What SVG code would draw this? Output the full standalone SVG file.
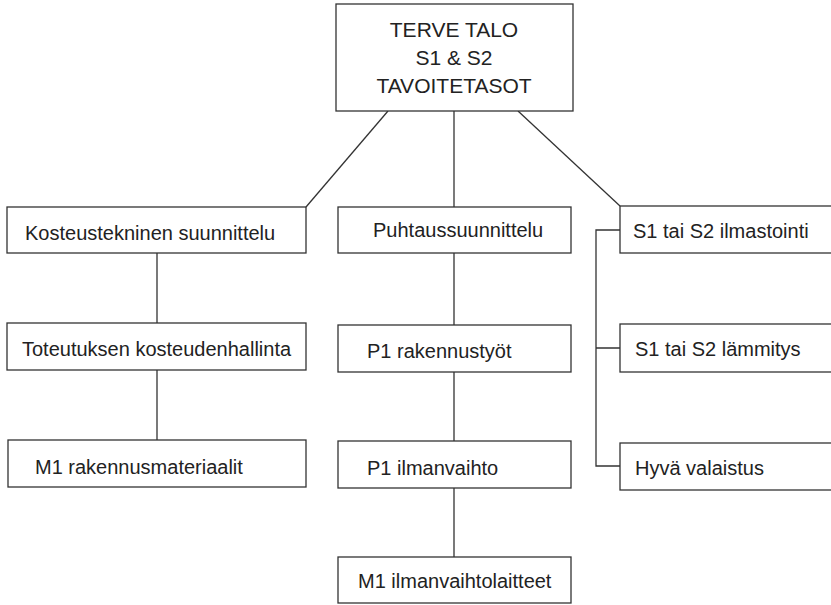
<svg xmlns="http://www.w3.org/2000/svg" width="831" height="605" viewBox="0 0 831 605">
<style>
.box{fill:#fff;stroke:#333;stroke-width:1.3}
.ln{fill:none;stroke:#333;stroke-width:1.3}
text{font-family:"Liberation Sans",Arial,sans-serif;font-size:20px;fill:#222}
.t{font-size:21px;text-anchor:middle}
</style>
<rect width="831" height="605" fill="#fff"/>
<g id="connectors">
<path class="ln" d="M388,111 L306,207"/>
<path class="ln" d="M454,111 L454,207"/>
<path class="ln" d="M518,111 L620,206"/>
<path class="ln" d="M157,253 L157,323 M157,370 L157,440"/>
<path class="ln" d="M454,253 L454,325 M454,372 L454,441 M454,488 L454,557"/>
<path class="ln" d="M620,230 L596,230 L596,466 L620,466 M596,348 L620,348"/>
</g>
<g id="top"><rect class="box" x="336" y="4" width="237" height="107"/>
<text class="t" x="454" y="37">TERVE TALO</text>
<text class="t" x="454" y="65">S1 &amp; S2</text>
<text class="t" x="454" y="93">TAVOITETASOT</text></g>
<g id="kosteustekninen"><rect class="box" x="7" y="207" width="299" height="46"/><text x="25" y="240">Kosteustekninen suunnittelu</text></g>
<g id="toteutuksen"><rect class="box" x="7" y="323" width="299" height="47"/><text x="22" y="356">Toteutuksen kosteudenhallinta</text></g>
<g id="m1rak"><rect class="box" x="8" y="440" width="298" height="47"/><text x="35" y="474">M1 rakennusmateriaalit</text></g>
<g id="puhtaus"><rect class="box" x="338" y="207" width="233" height="46"/><text x="373" y="237">Puhtaussuunnittelu</text></g>
<g id="p1rak"><rect class="box" x="338" y="325" width="233" height="47"/><text x="367" y="358">P1 rakennustyöt</text></g>
<g id="p1ilm"><rect class="box" x="338" y="441" width="233" height="47"/><text x="367" y="475">P1 ilmanvaihto</text></g>
<g id="m1ilm"><rect class="box" x="338" y="557" width="233" height="46"/><text x="358" y="588">M1 ilmanvaihtolaitteet</text></g>
<g id="ilmastointi"><rect class="box" x="620" y="206" width="215" height="47"/><text x="633" y="238">S1 tai S2 ilmastointi</text></g>
<g id="lammitys"><rect class="box" x="620" y="324" width="215" height="48"/><text x="635" y="356">S1 tai S2 lämmitys</text></g>
<g id="valaistus"><rect class="box" x="620" y="443" width="215" height="47"/><text x="635" y="475">Hyvä valaistus</text></g>
</svg>
